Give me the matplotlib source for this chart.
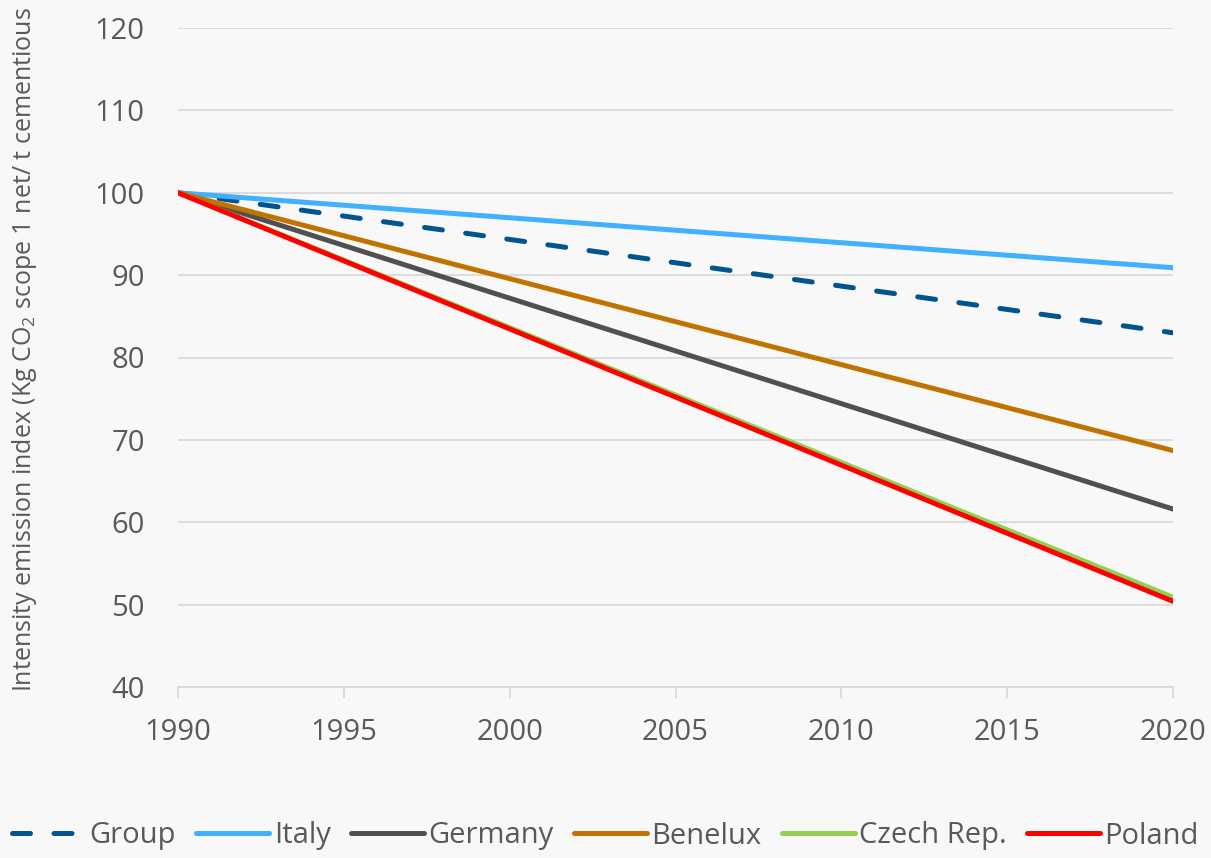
import matplotlib
matplotlib.use("Agg")
import matplotlib.pyplot as plt

plt.rcParams['font.family'] = ['Open Sans', 'DejaVu Sans']
plt.rcParams['mathtext.fontset'] = 'custom'
plt.rcParams['mathtext.rm'] = 'Open Sans'
plt.rcParams['mathtext.it'] = 'Open Sans'

years = [1990, 2020]
series_names = ["Group", "Italy", "Germany", "Benelux", "Czech Rep.", "Poland"]
group = [100, 83.0]
italy = [100, 90.9]
germany = [100, 61.6]
benelux = [100, 68.7]
czech = [100, 50.9]
poland = [100, 50.4]
x_ticks = [1990, 1995, 2000, 2005, 2010, 2015, 2020]
y_ticks = [40, 50, 60, 70, 80, 90, 100, 110, 120]

colors = {
    "Group": "#00558f",
    "Italy": "#3fb1ff",
    "Germany": "#505050",
    "Benelux": "#c07300",
    "Czech Rep.": "#92d050",
    "Poland": "#ff0000",
}
values = {"Group": group, "Italy": italy, "Germany": germany,
          "Benelux": benelux, "Czech Rep.": czech, "Poland": poland}

bg = "#f8f8f8"
txt = "#595959"
grid = "#d9d9d9"

fig = plt.figure(figsize=(12.11, 8.58), dpi=100, facecolor=bg)
ax = fig.add_axes([178/1211, 1-687/858, (1173-178)/1211, (687-28)/858])
ax.set_facecolor(bg)

lw = 3.6
for name in series_names:
    if name == "Group":
        ax.plot(years, values[name], color=colors[name], lw=lw,
                linestyle=(0, (3.6, 4.7)), solid_capstyle='round',
                dash_capstyle='round', label=name, zorder=3)
    else:
        ax.plot(years, values[name], color=colors[name], lw=lw,
                solid_capstyle='round', label=name, zorder=3)

ax.set_xlim(1990, 2020)
ax.set_ylim(40, 120)
ax.set_xticks(x_ticks)
ax.set_yticks(y_ticks)
ax.yaxis.grid(True, color=grid, lw=1.3)
ax.set_axisbelow(True)
for s in ["top", "right", "left"]:
    ax.spines[s].set_visible(False)
ax.spines["bottom"].set_color(grid)
ax.spines["bottom"].set_linewidth(1.3)
ax.tick_params(axis='y', length=0, pad=24, labelsize=21, labelcolor=txt)
ax.tick_params(axis='x', length=8, width=1.3, color=grid, pad=14,
               labelsize=21, labelcolor=txt)

fig.text(25/1211, 1-350/858,
         "Intensity emission index (Kg CO$_2$ scope 1 net/ t cementious",
         rotation=90, ha='center', va='center', fontsize=18, color=txt)

leg = fig.legend(loc='center', bbox_to_anchor=(0.5, 1-836/858), ncol=6,
                 frameon=False, fontsize=21, handlelength=2.5,
                 handletextpad=0.15, columnspacing=0.7, labelcolor=txt,
                 borderpad=0, borderaxespad=0)

fig.savefig("out.png", dpi=100, facecolor=bg)
